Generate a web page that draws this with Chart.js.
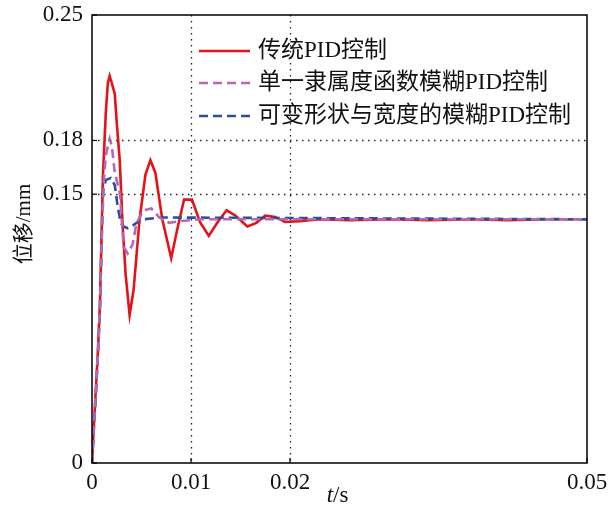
<!DOCTYPE html>
<html>
<head>
<meta charset="utf-8">
<script src="https://cdn.jsdelivr.net/npm/chart.js@4.4.0/dist/chart.umd.min.js"></script>
<style>
  body { margin: 0; background: #fff; }
  canvas { display: block; }
</style>
</head>
<body>
<canvas id="chart" width="613" height="513"></canvas>
<script>
// time (s) and displacement (mm)
const tRed = [0, 0.0002, 0.0004, 0.0006, 0.0008, 0.001, 0.0011, 0.0014, 0.0016, 0.00178, 0.002, 0.0023, 0.0025, 0.0028, 0.0031, 0.0034, 0.0038, 0.0042, 0.0048, 0.0054, 0.0059, 0.0064, 0.0071, 0.008, 0.0086, 0.0093, 0.0101, 0.0109, 0.0118, 0.0127, 0.0136, 0.0145, 0.0157, 0.0166, 0.0175, 0.0185, 0.0195, 0.021, 0.023, 0.026, 0.03, 0.034, 0.038, 0.042, 0.046, 0.05]
const yRed = [0, 0.022, 0.042, 0.063, 0.088, 0.135, 0.160, 0.196, 0.212, 0.216, 0.212, 0.206, 0.190, 0.169, 0.132, 0.105, 0.0826, 0.0965, 0.1356, 0.161, 0.169, 0.162, 0.136, 0.1144, 0.130, 0.147, 0.147, 0.1345, 0.1267, 0.1345, 0.141, 0.138, 0.132, 0.134, 0.138, 0.1373, 0.1345, 0.135, 0.136, 0.1355, 0.136, 0.1355, 0.136, 0.1355, 0.136, 0.136]

const tPurple = [0, 0.0002, 0.0004, 0.0006, 0.0008, 0.001, 0.0012, 0.0014, 0.00178, 0.002, 0.0023, 0.0028, 0.0032, 0.0036, 0.0041, 0.0045, 0.0052, 0.006, 0.0068, 0.0078, 0.009, 0.011, 0.05]
const yPurple = [0, 0.021, 0.041, 0.062, 0.087, 0.128, 0.158, 0.172, 0.181, 0.177, 0.162, 0.151, 0.1205, 0.117, 0.122, 0.134, 0.141, 0.142, 0.137, 0.134, 0.135, 0.136, 0.136]

const tBlue = [0, 0.0002, 0.0004, 0.0006, 0.0008, 0.001, 0.0011, 0.0014, 0.0019, 0.0023, 0.0026, 0.0029, 0.0032, 0.0036, 0.004, 0.0045, 0.0052, 0.007, 0.05]
const yBlue = [0, 0.020, 0.039, 0.060, 0.085, 0.130, 0.151, 0.158, 0.159, 0.155, 0.143, 0.134, 0.132, 0.131, 0.132, 0.134, 0.136, 0.137, 0.136]

const seriesLabels = ['传统PID控制', '单一隶属度函数模糊PID控制', '可变形状与宽度的模糊PID控制']
const xTicks = [0, 0.01, 0.02, 0.05]
const yTicks = [0, 0.15, 0.18, 0.25]
const xGrid = [0.01, 0.02]
const yGrid = [0.15, 0.18]

const FONT = '"Liberation Serif", "Times New Roman", "Noto Sans CJK SC", serif'

const toPoints = (ts, ys) => ts.map((t, i) => ({ x: t, y: ys[i] }))

// dotted guide lines, box and inward tick marks
const framePlugin = {
  id: 'frame',
  beforeDatasetsDraw(chart) {
    const { ctx, chartArea: a, scales } = chart
    ctx.save()
    ctx.strokeStyle = '#222'
    ctx.lineWidth = 1.3
    ctx.setLineDash([1.5, 4.5])
    xGrid.forEach(v => {
      const px = Math.round(scales.x.getPixelForValue(v)) + 0.5
      ctx.beginPath(); ctx.moveTo(px, a.top); ctx.lineTo(px, a.bottom); ctx.stroke()
    })
    yGrid.forEach(v => {
      const py = Math.round(scales.y.getPixelForValue(v)) + 0.5
      ctx.beginPath(); ctx.moveTo(a.left, py); ctx.lineTo(a.right, py); ctx.stroke()
    })
    ctx.restore()
  },
  afterDraw(chart) {
    const { ctx, chartArea: a, scales } = chart
    ctx.save()
    ctx.strokeStyle = '#000'
    ctx.lineWidth = 1.5
    ctx.strokeRect(a.left, a.top, a.right - a.left, a.bottom - a.top)
    ctx.lineWidth = 1.2
    xTicks.forEach(v => {
      const px = scales.x.getPixelForValue(v)
      ctx.beginPath(); ctx.moveTo(px, a.bottom); ctx.lineTo(px, a.bottom - 5); ctx.stroke()
    })
    yTicks.forEach(v => {
      const py = scales.y.getPixelForValue(v)
      ctx.beginPath(); ctx.moveTo(a.left, py); ctx.lineTo(a.left + 5, py); ctx.stroke()
    })

    // axis titles
    ctx.fillStyle = '#111'
    ctx.textBaseline = 'middle'
    ctx.font = 'italic 23px ' + FONT
    const tw = ctx.measureText('t').width
    ctx.font = '23px ' + FONT
    const sw = ctx.measureText('/s').width
    const cx = (a.left + a.right) / 2 - 2
    ctx.textAlign = 'left'
    ctx.font = 'italic 23px ' + FONT
    ctx.fillText('t', cx - (tw + sw) / 2, 496)
    ctx.font = '23px ' + FONT
    ctx.fillText('/s', cx - (tw + sw) / 2 + tw, 496)

    ctx.save()
    ctx.translate(24, 224)
    ctx.rotate(-Math.PI / 2)
    ctx.textAlign = 'center'
    ctx.font = '21px ' + FONT
    ctx.fillText('位移/mm', 0, 0)
    ctx.restore()

    // legend inside the plot
    const rows = [51, 83, 116]
    chart.data.datasets.forEach((ds, i) => {
      const y = rows[i]
      ctx.save()
      ctx.strokeStyle = ds.borderColor
      ctx.lineWidth = 2.6
      ctx.setLineDash(ds.borderDash || [])
      ctx.beginPath(); ctx.moveTo(199, y); ctx.lineTo(250, y); ctx.stroke()
      ctx.restore()
      ctx.fillStyle = '#111'
      ctx.textAlign = 'left'
      ctx.textBaseline = 'middle'
      ctx.font = '23px ' + FONT
      ctx.fillText(ds.label, 258, y)
    })
    ctx.restore()
  }
}

const chart = new Chart(document.getElementById('chart'), {
  type: 'line',
  data: {
    datasets: [
      {
        label: seriesLabels[0],
        data: toPoints(tRed, yRed),
        borderColor: '#e3121b',
        borderWidth: 2.6,
        pointRadius: 0,
        tension: 0,
        order: 3
      },
      {
        label: seriesLabels[1],
        data: toPoints(tPurple, yPurple),
        borderColor: '#b469b4',
        borderWidth: 2.6,
        borderDash: [9, 5],
        pointRadius: 0,
        tension: 0,
        order: 1
      },
      {
        label: seriesLabels[2],
        data: toPoints(tBlue, yBlue),
        borderColor: '#2b4f9e',
        borderWidth: 2.6,
        borderDash: [9, 5],
        pointRadius: 0,
        tension: 0,
        order: 2
      }
    ]
  },
  options: {
    responsive: false,
    animation: false,
    layout: { padding: { top: 15, right: 26, left: 0, bottom: 0 } },
    plugins: {
      legend: { display: false },
      tooltip: { enabled: false }
    },
    scales: {
      x: {
        type: 'linear',
        min: 0,
        max: 0.05,
        afterBuildTicks: s => { s.ticks = xTicks.map(v => ({ value: v })) },
        afterFit: s => { s.height = 50; s.paddingLeft = 0; s.paddingRight = 0 },
        grid: { display: false, drawTicks: false },
        border: { display: false },
        ticks: {
          color: '#111',
          padding: 6,
          maxRotation: 0,
          autoSkip: false,
          font: { family: FONT, size: 23 },
          callback: v => String(v)
        }
      },
      y: {
        type: 'linear',
        min: 0,
        max: 0.25,
        afterBuildTicks: s => { s.ticks = yTicks.map(v => ({ value: v })) },
        afterFit: s => { s.width = 92; s.paddingTop = 0; s.paddingBottom = 0 },
        grid: { display: false, drawTicks: false },
        border: { display: false },
        ticks: {
          color: '#111',
          padding: 9,
          autoSkip: false,
          font: { family: FONT, size: 23 },
          callback: v => String(v)
        }
      }
    }
  },
  plugins: [framePlugin]
})
</script>
</body>
</html>
